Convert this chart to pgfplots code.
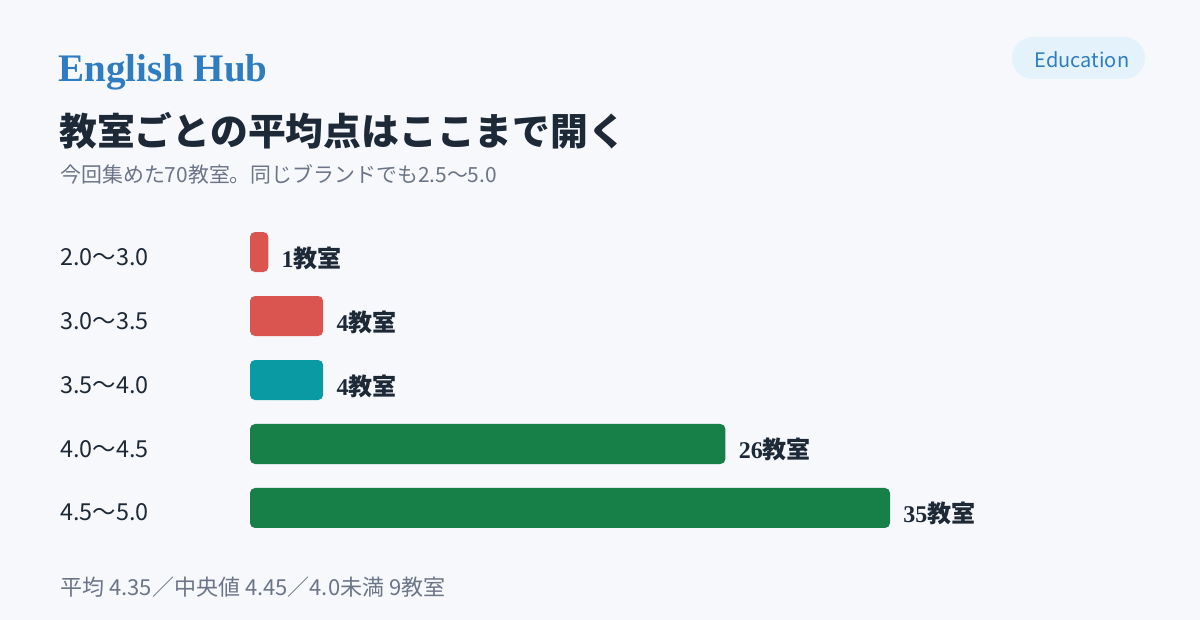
\documentclass[border=0pt]{standalone}
\usepackage{fontspec}
\usepackage{pgfplots}
\pgfplotsset{compat=1.18}
\setmainfont{Noto Sans CJK JP}
\newfontfamily\serif{Liberation Serif}
\definecolor{bg}{HTML}{F6F8FB}
\definecolor{hub}{HTML}{2F7DC0}
\definecolor{ink}{HTML}{1E2938}
\definecolor{mute}{HTML}{6B7587}
\definecolor{badge}{HTML}{E4F3FB}
\definecolor{cred}{HTML}{DB5550}
\definecolor{cteal}{HTML}{0A9AA4}
\definecolor{cgreen}{HTML}{178049}
\begin{document}
\begin{tikzpicture}
% canvas: 1200x620 px at 0.5pt per px
\fill[bg] (0,0) rectangle (600pt,310pt);
\node[anchor=base west, inner sep=0pt, text=hub, font=\serif\bfseries\fontsize{19.5}{22}\selectfont]
  at (29pt,269pt) {English Hub};
\node[anchor=base west, inner sep=0pt, text=ink, font=\bfseries\fontsize{18.9}{22}\selectfont]
  at (29.5pt,237pt) {教室ごとの平均点はここまで開く};
\node[anchor=base west, inner sep=0pt, text=mute, font=\fontsize{10.45}{13}\selectfont]
  at (30pt,218.5pt) {今回集めた70教室。同じブランドでも2.5〜5.0};
\fill[badge, rounded corners=10.5pt] (506pt,270.5pt) rectangle (572.5pt,291.5pt);
\node[inner sep=0pt, text=hub, font=\fontsize{10}{12}\selectfont] at (541pt,280pt) {Education};
\node[anchor=base west, inner sep=0pt, text=mute, font=\fontsize{11}{13}\selectfont]
  at (30pt,12pt) {平均 4.35／中央値 4.45／4.0未満 9教室};
\begin{axis}[
  at={(125pt,40pt)}, anchor=south west,
  scale only axis, width=320pt, height=160pt,
  xmin=0, xmax=35, ymin=-0.5, ymax=4.5, y dir=reverse,
  xbar, clip=false,
  axis line style={draw=none}, major tick length=0pt,
  xtick=\empty,
  ytick={0,1,2,3,4},
  yticklabels={2.0〜3.0,3.0〜3.5,3.5〜4.0,4.0〜4.5,4.5〜5.0},
  yticklabel style={anchor=base west, inner sep=0pt, xshift=-95pt, yshift=-6.5pt,
    text=ink, font=\fontsize{11.7}{14}\selectfont},
  point meta=explicit symbolic,
  nodes near coords={{\serif\bfseries\pgfplotspointmeta}{\bfseries 教室}},
  every node near coord/.append style={anchor=base west, inner sep=0pt,
    xshift=6.5pt, yshift=-7.5pt, text=ink, font=\fontsize{12}{14}\selectfont},
]
\addplot[fill=cred, draw=none, bar shift=0pt, bar width=20pt, rounded corners=2.5pt]
  coordinates {(1,0) [1] (4,1) [4]};
\addplot[fill=cteal, draw=none, bar shift=0pt, bar width=20pt, rounded corners=2.5pt]
  coordinates {(4,2) [4]};
\addplot[fill=cgreen, draw=none, bar shift=0pt, bar width=20pt, rounded corners=2.5pt]
  coordinates {(26,3) [26] (35,4) [35]};
\end{axis}
\end{tikzpicture}
\end{document}
